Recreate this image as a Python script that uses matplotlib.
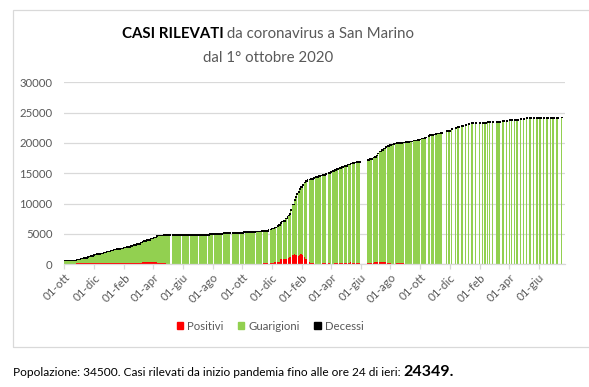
import matplotlib

matplotlib.use("Agg")
import matplotlib.pyplot as plt
import matplotlib.dates as mdates
from matplotlib.patches import Patch, Rectangle
import numpy as np
import pandas as pd

plt.rcParams["font.family"] = ["Lato", "DejaVu Sans"]

# ── rilevazioni giornaliere (ott 2020 - ott 2022) ─────────────────────────
date_giorn = [
    "2020-10-01", "2020-10-19", "2020-10-26", "2020-11-02", "2020-11-09", "2020-11-16",
    "2020-11-19", "2020-11-22", "2020-11-29", "2020-12-01", "2020-12-06", "2020-12-13",
    "2020-12-20", "2020-12-26", "2021-01-02", "2021-01-09", "2021-01-16", "2021-01-23",
    "2021-01-29", "2021-02-05", "2021-02-12", "2021-02-17", "2021-02-19", "2021-02-26",
    "2021-03-05", "2021-03-09", "2021-03-11", "2021-03-18", "2021-03-25", "2021-04-01",
    "2021-04-08", "2021-04-10", "2021-04-14", "2021-04-21", "2021-04-27", "2021-05-09",
    "2021-05-30", "2021-06-15", "2021-07-05", "2021-07-22", "2021-07-25", "2021-08-05",
    "2021-08-23", "2021-09-09", "2021-09-27", "2021-10-03", "2021-10-07", "2021-10-30",
    "2021-11-08", "2021-11-13", "2021-11-22", "2021-11-26", "2021-11-29", "2021-12-03",
    "2021-12-06", "2021-12-11", "2021-12-14", "2021-12-17", "2021-12-20", "2021-12-23",
    "2021-12-28", "2021-12-31", "2022-01-02", "2022-01-04", "2022-01-07", "2022-01-09",
    "2022-01-12", "2022-01-15", "2022-01-18", "2022-01-20", "2022-01-23", "2022-01-25",
    "2022-01-28", "2022-01-31", "2022-02-04", "2022-02-07", "2022-02-10", "2022-02-14",
    "2022-02-17", "2022-02-24", "2022-02-28", "2022-03-05", "2022-03-09", "2022-03-14",
    "2022-03-19", "2022-03-25", "2022-03-30", "2022-04-04", "2022-04-07", "2022-04-11",
    "2022-04-17", "2022-04-21", "2022-04-27", "2022-05-03", "2022-05-06", "2022-05-10",
    "2022-05-15", "2022-05-18", "2022-05-23", "2022-05-27", "2022-06-13", "2022-06-18",
    "2022-06-22", "2022-06-27", "2022-06-29", "2022-07-02", "2022-07-05", "2022-07-09",
    "2022-07-13", "2022-07-17", "2022-07-21", "2022-07-25", "2022-07-29", "2022-08-02",
    "2022-08-06", "2022-08-11", "2022-08-13", "2022-08-20", "2022-08-25", "2022-08-31",
    "2022-09-07", "2022-09-12", "2022-09-17", "2022-09-24", "2022-09-28", "2022-10-03",
    "2022-10-08", "2022-10-11", "2022-10-16", "2022-10-19", "2022-10-24", "2022-10-28",
]
totale_giorn = [
    714, 770, 930, 1040, 1150, 1320,
    1400, 1480, 1650, 1700, 1810, 1920,
    2090, 2200, 2420, 2530, 2640, 2750,
    2860, 2970, 3130, 3230, 3290, 3510,
    3730, 3850, 3950, 4170, 4390, 4580,
    4800, 4850, 4900, 4940, 4940, 4940,
    4940, 4940, 4950, 5000, 5160, 5160,
    5320, 5320, 5330, 5490, 5490, 5510,
    5650, 5650, 5820, 5900, 6040, 6040,
    6200, 6450, 6600, 6900, 7150, 7300,
    7650, 7900, 8200, 8400, 9060, 9500,
    10000, 10700, 11200, 11700, 12100, 12500,
    12900, 13200, 13600, 13850, 14000, 14100,
    14200, 14400, 14500, 14650, 14750, 14850,
    15000, 15150, 15300, 15550, 15650, 15800,
    16000, 16150, 16350, 16500, 16600, 16750,
    16850, 16900, 16950, 16980, 17290, 17450,
    17550, 17750, 17850, 18050, 18400, 18750,
    19000, 19250, 19500, 19650, 19800, 19900,
    20000, 20050, 20080, 20150, 20200, 20260,
    20370, 20400, 20550, 20620, 20700, 20860,
    20950, 21050, 21300, 21400, 21470, 21550,
]
positivi_giorn = [
    40, 40, 275, 275, 275, 275,
    165, 165, 165, 250, 250, 250,
    250, 250, 250, 250, 180, 180,
    180, 180, 180, 275, 275, 275,
    275, 440, 440, 440, 440, 440,
    440, 275, 165, 165, 20, 20,
    20, 20, 20, 20, 20, 20,
    20, 20, 20, 20, 20, 20,
    20, 165, 165, 165, 165, 275,
    440, 440, 440, 825, 825, 825,
    825, 990, 990, 1260, 1260, 1260,
    1540, 1700, 1540, 1540, 1430, 1540,
    1700, 1540, 1260, 880, 600, 330,
    165, 165, 55, 55, 55, 200,
    200, 200, 55, 55, 200, 200,
    200, 200, 275, 165, 165, 440,
    165, 165, 165, 165, 165, 165,
    275, 275, 385, 385, 385, 385,
    385, 385, 385, 165, 165, 55,
    55, 55, 165, 165, 165, 55,
    55, 110, 110, 110, 110, 110,
    110, 110, 110, 110, 110, 110,
]
decessi_giorn = [
    42, 42, 45, 47, 50, 52,
    53, 55, 57, 58, 60, 63,
    65, 68, 70, 72, 73, 75,
    76, 77, 78, 79, 80, 82,
    84, 85, 85, 87, 88, 89,
    90, 90, 90, 90, 90, 90,
    90, 90, 90, 90, 90, 90,
    90, 90, 90, 90, 90, 90,
    90, 90, 90, 91, 91, 92,
    92, 93, 93, 94, 95, 95,
    96, 97, 98, 99, 100, 101,
    102, 103, 104, 105, 106, 107,
    108, 109, 110, 110, 111, 111,
    112, 112, 112, 112, 112, 112,
    112, 112, 112, 112, 112, 112,
    113, 113, 113, 113, 113, 113,
    113, 113, 114, 114, 114, 114,
    114, 114, 114, 114, 115, 115,
    115, 115, 116, 116, 116, 116,
    117, 117, 117, 117, 117, 117,
    117, 117, 118, 118, 118, 118,
    118, 118, 118, 118, 118, 118,
]

# giorni senza dato (righe bianche), incluso il buco di giugno 2022
# e la fine della serie giornaliera
giorni_mancanti = [
    "2021-05-08", "2021-05-29", "2021-06-14", "2021-07-04", "2021-07-21", "2021-08-04",
    "2021-08-22", "2021-09-08", "2021-09-26", "2021-10-06", "2021-10-29", "2021-11-12",
    "2021-11-25", "2021-12-10", "2021-12-22", "2022-01-01", "2022-01-11", "2022-01-22",
    "2022-02-03", "2022-02-13", "2022-02-27", "2022-03-13", "2022-03-24", "2022-04-03",
    "2022-04-16", "2022-04-26", "2022-05-05", "2022-05-14", "2022-05-22", "2022-06-01",
    "2022-06-26", "2022-07-08", "2022-07-24", "2022-08-10", "2022-08-30", "2022-09-16",
    "2022-10-02", "2022-10-15", "2022-10-23", "2022-10-30",
]

# ── rilevazioni rade (nov 2022 - lug 2023) ────────────────────────────────
date_rade = [
    "2022-11-01", "2022-11-05", "2022-11-09", "2022-11-13", "2022-11-24", "2022-11-29",
    "2022-12-04", "2022-12-12", "2022-12-18", "2022-12-26", "2022-12-27",
    "2023-01-02", "2023-01-08", "2023-01-15", "2023-01-22", "2023-01-31",
    "2023-02-06", "2023-02-11", "2023-02-16", "2023-02-20", "2023-02-26",
    "2023-03-07", "2023-03-12", "2023-03-19", "2023-03-20", "2023-03-27",
    "2023-04-02", "2023-04-06", "2023-04-12", "2023-04-17", "2023-04-25",
    "2023-05-01", "2023-05-07", "2023-05-14", "2023-05-21", "2023-05-29", "2023-06-04",
    "2023-06-11", "2023-06-18", "2023-06-25", "2023-06-30", "2023-07-09", "2023-07-18",
]
totale_rade = [
    21600, 21690, 21720, 21760, 22140, 22150,
    22420, 22640, 22800, 22970, 22970,
    23130, 23240, 23400, 23400, 23400,
    23400, 23400, 23570, 23570, 23570,
    23570, 23570, 23740, 23740, 23740,
    23900, 23900, 23900, 23900, 24070,
    24070, 24200, 24200, 24200, 24200, 24200,
    24200, 24200, 24200, 24200, 24200, 24349,
]
positivi_rade = [
    110, 110, 110, 110, 110, 110,
    100, 100, 100, 100, 100,
    90, 90, 20, 20, 20,
    20, 20, 20, 20, 20,
    20, 20, 20, 20, 20,
    20, 20, 20, 20, 20,
    20, 20, 20, 20, 20, 20,
    20, 20, 20, 20, 20, 20,
]
decessi_rade = [
    119, 119, 119, 119, 119, 119,
    119, 119, 119, 119, 119,
    120, 120, 120, 120, 120,
    120, 120, 120, 120, 120,
    120, 120, 120, 120, 120,
    120, 120, 120, 120, 120,
    121, 121, 121, 121, 121, 121,
    121, 121, 121, 121, 121, 121,
]

mesi = ["gen", "feb", "mar", "apr", "mag", "giu",
        "lug", "ago", "set", "ott", "nov", "dic"]

ROSSO = "#FF0000"
VERDE = "#92D050"
NERO = "#000000"
GRIGIO = "#595959"
LINEA = "#D9D9D9"
PAD = 1.2        # giorni tolti prima di un giorno mancante (riga bianca visibile)
W_RADA = 3.2     # larghezza (giorni) delle barre rade

assert len(date_giorn) == len(totale_giorn) == len(positivi_giorn) == len(decessi_giorn)
assert len(date_rade) == len(totale_rade) == len(positivi_rade) == len(decessi_rade)


def main():
    W, H = 589, 387
    fig = plt.figure(figsize=(W / 100, H / 100), dpi=100)
    ax = fig.add_axes([64.3 / W, 1 - 264.3 / H, (565 - 64.3) / W, (264.3 - 82.3) / H])

    # serie giornaliera: ogni barra arriva alla rilevazione successiva
    x0 = mdates.date2num(pd.to_datetime(date_giorn))
    xm = np.sort(mdates.date2num(pd.to_datetime(giorni_mancanti)))
    larg = []
    for i, x in enumerate(x0):
        nxt = x0[i + 1] if i + 1 < len(x0) else np.inf
        succ = xm[xm > x]
        stop = succ[0] if len(succ) else np.inf
        larg.append(stop - x - PAD if stop < nxt else nxt - x)
    larg = np.array(larg)

    tot = np.array(totale_giorn, float)
    pos = np.array(positivi_giorn, float)
    dec = np.array(decessi_giorn, float)
    gua = tot - pos - dec

    kw = dict(align="edge", linewidth=0, antialiased=False)
    ax.bar(x0, pos, width=larg, color=ROSSO, **kw)
    ax.bar(x0, gua, width=larg, bottom=pos, color=VERDE, **kw)
    ax.bar(x0, dec, width=larg, bottom=pos + gua, color=NERO, align="edge",
           edgecolor=NERO, linewidth=0.5, antialiased=False)

    # rilevazioni rade
    xr = mdates.date2num(pd.to_datetime(date_rade))
    tr = np.array(totale_rade, float)
    pr = np.array(positivi_rade, float)
    dr = np.array(decessi_rade, float)
    gr = tr - pr - dr
    kw = dict(align="center", width=W_RADA, linewidth=0, antialiased=False)
    ax.bar(xr, pr, color=ROSSO, **kw)
    ax.bar(xr, gr, bottom=pr, color=VERDE, **kw)
    ax.bar(xr, dr, bottom=pr + gr, color=NERO, align="center", width=W_RADA,
           edgecolor=NERO, linewidth=0.5, antialiased=False)

    # assi
    ax.set_xlim(mdates.date2num(pd.Timestamp("2020-10-01")),
                mdates.date2num(pd.Timestamp("2023-07-25")))
    ax.set_ylim(0, 30000)
    ax.set_yticks(range(0, 30001, 5000))
    ax.yaxis.set_major_formatter(plt.FuncFormatter(lambda v, p: f"{int(v)}"))
    ax.xaxis.set_major_locator(mdates.MonthLocator(bymonth=[2, 4, 6, 8, 10, 12]))
    ax.xaxis.set_major_formatter(plt.FuncFormatter(
        lambda v, p: f"{mdates.num2date(v).day:02d}-{mesi[mdates.num2date(v).month - 1]}"))
    ax.set_axisbelow(True)
    ax.yaxis.grid(True, color=LINEA, linewidth=0.9)
    for s in ("top", "right", "left"):
        ax.spines[s].set_visible(False)
    ax.spines["bottom"].set_color(LINEA)
    ax.spines["bottom"].set_linewidth(0.9)
    ax.tick_params(axis="y", length=0, pad=8.5, labelsize=8.2, labelcolor=GRIGIO)
    ax.tick_params(axis="x", length=3.5, color=LINEA, width=0.9, pad=2,
                   labelsize=8.4, labelcolor=GRIGIO)
    for lab in ax.get_xticklabels():
        lab.set_rotation(45)
        lab.set_ha("right")
        lab.set_va("top")
        lab.set_rotation_mode("anchor")

    # bordo dell'area del grafico
    fig.patches.append(Rectangle((12.7 / W, 1 - 346.7 / H), (600 - 12.7) / W,
                                 (346.7 - 10) / H, transform=fig.transFigure,
                                 fill=False, edgecolor=LINEA, linewidth=0.9))

    # titolo su due righe (prima parte in grassetto)
    renderer = fig.canvas.get_renderer()

    def riga(y, parti, cx=None, x_left=None):
        objs = [fig.text(0, y, s, va="baseline", **k) for s, k in parti]
        ws = [o.get_window_extent(renderer).width for o in objs]
        x = (cx - sum(ws) / 2) if cx is not None else x_left
        for o, w in zip(objs, ws):
            o.set_x(x / W)
            x += w

    riga(1 - 38.5 / H, [("CASI RILEVATI", dict(fontsize=10.8, fontweight="bold", color=NERO)),
                        (" da coronavirus a San Marino", dict(fontsize=10.8, color=GRIGIO))],
         cx=268)
    riga(1 - 61.5 / H, [("dal 1° ottobre 2020", dict(fontsize=10.8, color=GRIGIO))], cx=268)

    # legenda
    handles = [Patch(color=ROSSO, label="Positivi"),
               Patch(color=VERDE, label="Guarigioni"),
               Patch(color=NERO, label="Decessi")]
    fig.legend(handles=handles, loc="center", bbox_to_anchor=(270 / W, 1 - 326 / H),
               ncol=3, frameon=False, fontsize=8.2, labelcolor=GRIGIO,
               handlelength=0.55, handleheight=0.55, handletextpad=0.35,
               columnspacing=1.3)

    # nota sotto il grafico
    riga(1 - 375.5 / H, [("Popolazione: 34500. Casi rilevati da inizio pandemia fino alle ore 24 di ieri: ",
                          dict(fontsize=8.6, color=NERO)),
                         ("24349.", dict(fontsize=11.5, fontweight="bold", color=NERO))],
         x_left=12.7)

    fig.savefig("out.png", dpi=100, facecolor="white")


if __name__ == "__main__":
    main()
